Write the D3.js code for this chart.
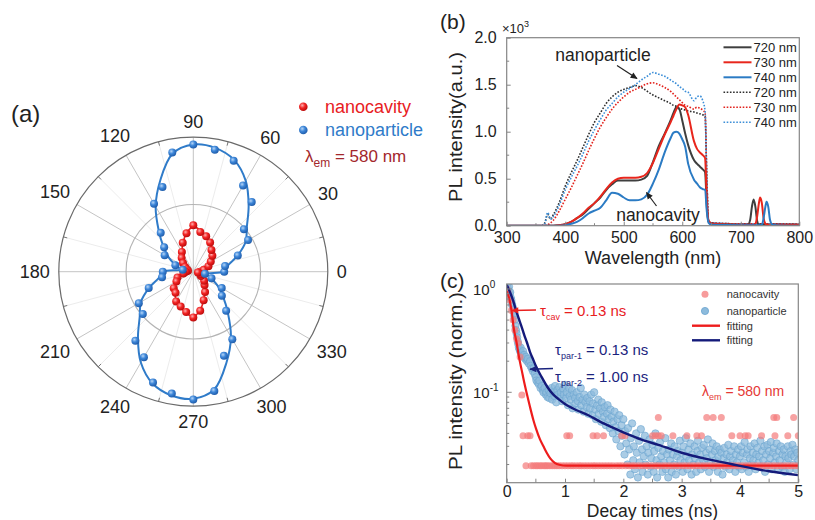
<!DOCTYPE html>
<html><head><meta charset="utf-8">
<script src="https://cdn.jsdelivr.net/npm/d3@7"></script>
<style>body{margin:0;background:#fff}svg{display:block}text{font-family:Arial,'Liberation Sans',Helvetica,sans-serif}</style>
</head><body><svg id="fig" width="815" height="520"></svg>
<script>
// ---------- Panel (a): polar emission pattern ----------
const polarAngles = [0,10,20,30,40,50,60,70,80,90,100,110,120,130,140,150,160,170,180,190,200,210,220,230,240,250,260,270,280,290,300,310,320,330,340,350];
const particlePolar = [0.23,0.24,0.352,0.47,0.491,0.676,0.74,0.877,0.921,0.946,0.90,0.67,0.584,0.377,0.283,0.246,0.142,0.08,0.227,0.236,0.353,0.468,0.49,0.67,0.734,0.876,0.92,0.95,0.90,0.666,0.58,0.38,0.277,0.244,0.144,0.088];
const particlePolarFit = [0.225,0.26,0.35,0.45,0.52,0.64,0.78,0.885,0.935,0.945,0.89,0.72,0.56,0.40,0.29,0.21,0.14,0.10,0.225,0.26,0.35,0.45,0.52,0.64,0.78,0.885,0.935,0.945,0.89,0.72,0.56,0.40,0.29,0.21,0.14,0.10];
const cavityPolar = [0.05,0.08,0.12,0.15,0.185,0.21,0.25,0.28,0.30,0.345,0.29,0.23,0.17,0.135,0.10,0.07,0.05,0.04,0.055,0.075,0.125,0.145,0.19,0.205,0.255,0.275,0.305,0.34,0.295,0.225,0.175,0.13,0.105,0.065,0.055,0.035];
const cavityPolarFit = [0.05,0.08,0.115,0.15,0.185,0.215,0.25,0.28,0.31,0.335,0.29,0.225,0.17,0.13,0.10,0.07,0.05,0.04,0.05,0.08,0.115,0.15,0.185,0.215,0.25,0.28,0.31,0.335,0.29,0.225,0.17,0.13,0.10,0.07,0.05,0.04];
const polarLabelAngles = [0,30,60,90,120,150,180,210,240,270,300,330];
const polarMinorAngles = [15,45,75,105,135,165,195,225,255,285,315,345];

// ---------- Panel (b): PL spectra ----------
const wavelength = [300,360,365,370,375,380,390,400,410,420,430,440,450,460,470,480,490,500,510,520,530,540,550,560,570,580,585,590,595,600,605,610,620,625,630,635,639,642,645,650,700,712,716,719,722,725,728,731,733,736,739,742,744,747,750,754,760,800];
const cavity720 = [0,0,0,0,0,0,0.005,0.015,0.04,0.08,0.12,0.18,0.24,0.30,0.38,0.44,0.48,0.48,0.48,0.48,0.49,0.53,0.68,0.85,0.98,1.12,1.20,1.26,1.24,1.12,0.98,0.86,0.70,0.66,0.63,0.60,0.57,0.20,0.04,0.02,0.01,0.01,0.06,0.20,0.28,0.20,0.05,0.01,0.01,0.01,0.01,0.01,0.01,0.01,0.01,0.01,0.01,0.01];
const cavity730 = [0,0,0,0,0,0,0.005,0.015,0.04,0.08,0.13,0.19,0.24,0.31,0.39,0.46,0.50,0.51,0.51,0.51,0.52,0.56,0.67,0.82,0.97,1.10,1.17,1.24,1.29,1.28,1.26,1.18,0.90,0.82,0.78,0.75,0.72,0.25,0.05,0.02,0.01,0.01,0.01,0.01,0.01,0.02,0.10,0.24,0.30,0.24,0.08,0.02,0.01,0.01,0.01,0.01,0.01,0.01];
const cavity740 = [0,0,0,0,0,0,0,0.005,0.02,0.04,0.08,0.13,0.16,0.19,0.27,0.35,0.34,0.30,0.27,0.27,0.28,0.33,0.45,0.60,0.78,0.93,0.99,1.00,0.98,0.92,0.84,0.66,0.49,0.45,0.41,0.39,0.38,0.15,0.03,0.01,0.005,0.005,0.005,0.005,0.005,0.005,0.005,0.005,0.005,0.01,0.08,0.20,0.255,0.20,0.06,0.01,0.005,0];
const particle720 = [0,0,0.03,0.12,0.07,0.12,0.25,0.42,0.56,0.69,0.83,0.97,1.10,1.20,1.30,1.37,1.42,1.45,1.47,1.49,1.47,1.43,1.39,1.36,1.33,1.30,1.28,1.27,1.25,1.24,1.23,1.22,1.21,1.20,1.19,1.18,1.16,0.50,0.05,0.03,0.02,0.02,0.02,0.02,0.02,0.02,0.02,0.02,0.02,0.02,0.02,0.02,0.02,0.02,0.02,0.02,0.02,0.015];
const particle730 = [0,0,0,0.01,0.03,0.06,0.16,0.28,0.40,0.53,0.66,0.80,0.93,1.05,1.15,1.24,1.31,1.37,1.42,1.45,1.48,1.51,1.52,1.50,1.47,1.43,1.40,1.37,1.34,1.31,1.28,1.27,1.24,1.26,1.25,1.23,1.20,0.50,0.05,0.03,0.02,0.02,0.02,0.02,0.02,0.02,0.02,0.02,0.02,0.02,0.02,0.02,0.02,0.02,0.02,0.02,0.02,0.015];
const particle740 = [0,0,0.02,0.14,0.07,0.10,0.22,0.38,0.51,0.63,0.76,0.90,1.02,1.13,1.23,1.30,1.37,1.42,1.46,1.50,1.55,1.59,1.63,1.61,1.59,1.55,1.53,1.51,1.48,1.46,1.43,1.42,1.33,1.37,1.38,1.33,1.22,0.50,0.06,0.03,0.02,0.02,0.02,0.02,0.02,0.02,0.02,0.02,0.02,0.02,0.02,0.02,0.02,0.02,0.02,0.02,0.02,0.015];
const spectraLegend = ['720 nm','730 nm','740 nm','720 nm','730 nm','740 nm'];
const specYTicks = [0,0.5,1.0,1.5,2.0];
const specXTicks = [300,400,500,600,700,800];

// ---------- Panel (c): decay curves ----------
const particleDecay = [[0,1.08],[0.01,1.12],[0.02,1.02],[0.03,0.97],[0.04,1.05],[0.05,0.90],[0.06,0.93],[0.07,0.82],[0.08,0.78],[0.09,0.72],[0.10,0.68],[0.11,0.63],[0.12,0.60],[0.13,0.55],[0.14,0.50],[0.15,0.44],[0.16,0.40],[0.17,0.37],[0.18,0.34],[0.19,0.31],[0.20,0.29],[0.21,0.27],[0.22,0.26],[0.23,0.25],[0.24,0.27],[0.25,0.24],[0.26,0.23],[0.28,0.25],[0.29,0.22],[0.30,0.23],[0.32,0.21],[0.33,0.22],[0.35,0.20],[0.36,0.21],[0.38,0.19],[0.40,0.20],[0.41,0.18],[0.43,0.17],[0.45,0.16],[0.46,0.17],[0.48,0.15],[0.50,0.14],[0.51,0.13],[0.53,0.125],[0.55,0.12],[0.56,0.13],[0.58,0.11],[0.60,0.115],[0.62,0.105],[0.63,0.10],[0.65,0.11],[0.67,0.095],[0.68,0.10],[0.70,0.09],[0.72,0.105],[0.73,0.088],[0.75,0.098],[0.77,0.11],[0.78,0.085],[0.80,0.10],[0.82,0.092],[0.83,0.115],[0.85,0.08],[0.87,0.105],[0.88,0.095],[0.90,0.112],[0.92,0.09],[0.93,0.10],[0.95,0.082],[0.97,0.108],[0.98,0.095],[1.00,0.118],[1.02,0.088],[1.03,0.10],[1.05,0.075],[1.07,0.11],[1.08,0.092],[1.10,0.085],[1.12,0.105],[1.13,0.07],[1.15,0.095],[1.17,0.088],[1.18,0.078],[1.20,0.10],[1.22,0.082],[1.23,0.068],[1.25,0.09],[1.27,0.11],[1.28,0.075],[1.30,0.085],[1.32,0.065],[1.33,0.095],[1.35,0.08],[1.37,0.072],[1.38,0.088],[1.40,0.062],[1.42,0.082],[1.43,0.07],[1.45,0.095],[1.47,0.06],[1.48,0.078],[1.50,0.10],[1.52,0.068],[1.53,0.055],[1.55,0.075],[1.57,0.085],[1.58,0.062],[1.60,0.07],[1.62,0.052],[1.63,0.08],[1.65,0.065],[1.67,0.058],[1.68,0.072],[1.70,0.048],[1.72,0.062],[1.73,0.075],[1.75,0.055],[1.77,0.045],[1.78,0.068],[1.80,0.058],[1.82,0.04],[1.83,0.052],[1.85,0.065],[1.87,0.046],[1.88,0.035],[1.90,0.055],[1.92,0.042],[1.93,0.06],[1.95,0.03],[1.97,0.048],[1.98,0.038],[2.00,0.055],[2.02,0.025],[2.03,0.042],[2.05,0.032],[2.07,0.02],[2.08,0.045],[2.10,0.028],[2.12,0.016],[2.13,0.036],[2.15,0.05],[2.17,0.022],[2.18,0.03],[2.20,0.018],[2.22,0.04],[2.23,0.026],[2.25,0.015],[2.27,0.034],[2.28,0.021],[2.30,0.044],[2.32,0.028],[2.33,0.017],[2.35,0.024],[2.37,0.038],[2.38,0.02],[2.40,0.03],[2.42,0.016],[2.43,0.026],[2.45,0.035],[2.47,0.019],[2.48,0.023],[2.50,0.031],[2.52,0.017],[2.53,0.027],[2.55,0.04],[2.57,0.022],[2.58,0.015],[2.60,0.029],[2.62,0.02],[2.63,0.033],[2.65,0.024],[2.67,0.017],[2.68,0.027],[2.70,0.021],[2.72,0.036],[2.73,0.018],[2.75,0.025],[2.77,0.015],[2.78,0.028],[2.80,0.022],[2.82,0.032],[2.83,0.017],[2.85,0.025],[2.87,0.02],[2.88,0.03],[2.90,0.016],[2.92,0.024],[2.93,0.027],[2.95,0.019],[2.97,0.034],[2.98,0.022],[3.00,0.026],[3.02,0.017],[3.03,0.03],[3.05,0.021],[3.07,0.036],[3.08,0.024],[3.10,0.018],[3.12,0.028],[3.13,0.022],[3.15,0.032],[3.17,0.016],[3.18,0.025],[3.20,0.02],[3.22,0.03],[3.23,0.023],[3.25,0.017],[3.27,0.027],[3.28,0.034],[3.30,0.021],[3.32,0.025],[3.33,0.018],[3.35,0.029],[3.37,0.022],[3.38,0.031],[3.40,0.019],[3.42,0.026],[3.43,0.023],[3.45,0.035],[3.47,0.017],[3.48,0.028],[3.50,0.021],[3.52,0.025],[3.53,0.032],[3.55,0.019],[3.57,0.027],[3.58,0.022],[3.60,0.03],[3.62,0.017],[3.63,0.024],[3.65,0.028],[3.67,0.02],[3.68,0.026],[3.70,0.016],[3.72,0.023],[3.73,0.029],[3.75,0.019],[3.77,0.025],[3.78,0.021],[3.80,0.031],[3.82,0.018],[3.83,0.024],[3.85,0.027],[3.87,0.02],[3.88,0.022],[3.90,0.03],[3.92,0.017],[3.93,0.025],[3.95,0.021],[3.97,0.028],[3.98,0.019],[4.00,0.024],[4.02,0.03],[4.03,0.018],[4.05,0.026],[4.07,0.021],[4.08,0.033],[4.10,0.019],[4.12,0.025],[4.13,0.028],[4.15,0.017],[4.17,0.023],[4.18,0.03],[4.20,0.02],[4.22,0.026],[4.23,0.022],[4.25,0.032],[4.27,0.018],[4.28,0.025],[4.30,0.029],[4.32,0.021],[4.33,0.024],[4.35,0.034],[4.37,0.019],[4.38,0.027],[4.40,0.022],[4.42,0.03],[4.43,0.017],[4.45,0.025],[4.47,0.031],[4.48,0.02],[4.50,0.027],[4.52,0.023],[4.53,0.033],[4.55,0.018],[4.57,0.026],[4.58,0.029],[4.60,0.021],[4.62,0.024],[4.63,0.032],[4.65,0.018],[4.67,0.027],[4.68,0.022],[4.70,0.03],[4.72,0.019],[4.73,0.025],[4.75,0.028],[4.77,0.017],[4.78,0.024],[4.80,0.021],[4.82,0.03],[4.83,0.023],[4.85,0.018],[4.87,0.027],[4.88,0.025],[4.90,0.031],[4.92,0.02],[4.93,0.024],[4.95,0.028],[4.97,0.018],[4.98,0.026],[5.00,0.022]];
const cavityDecayEarly = [[0,1.0],[0.02,0.93],[0.05,0.78],[0.08,0.62],[0.11,0.5],[0.14,0.4],[0.17,0.33],[0.2,0.3],[0.23,0.22],[0.26,0.094]];
const cavityLevels = [0.0195,0.038,0.057];
const cavityLevel1T = [0.33,0.42,0.46,0.5,0.53,0.57,0.6,0.64,0.67,0.7,0.74,0.78,0.82,0.86,0.9,0.95,1.0,1.05,1.1,1.14,1.19,1.24,1.28,1.33,1.38,1.43,1.48,1.52,1.57,1.62,1.67,1.72,1.77,1.82,1.88,1.93,1.98,2.04,2.1,2.15,2.2,2.26,2.32,2.38,2.43,2.49,2.55,2.6,2.66,2.72,2.78,2.84,2.9,2.96,3.02,3.08,3.14,3.2,3.26,3.32,3.38,3.44,3.5,3.56,3.62,3.68,3.74,3.8,3.86,3.92,3.98,4.04,4.1,4.16,4.22,4.28,4.34,4.4,4.46,4.52,4.58,4.64,4.7,4.76,4.82,4.88,4.94,5.0];
const cavityLevel2T = [0.28,0.36,0.4,1.03,1.08,1.48,1.55,1.66,1.97,2.03,2.5,2.55,2.6,2.65,2.85,3.09,3.26,3.34,3.86,4.0,4.09,4.14,4.37,4.6,4.82,5.0];
const cavityLevel3T = [2.6,3.43,3.54,3.68,4.58,4.63,4.92];
const cavityFit = [[0,0.95],[0.05,0.78],[0.086,0.6],[0.12,0.42],[0.171,0.30],[0.21,0.22],[0.257,0.164],[0.3,0.125],[0.343,0.098],[0.4,0.072],[0.457,0.054],[0.5,0.045],[0.571,0.035],[0.63,0.03],[0.686,0.026],[0.75,0.0228],[0.83,0.0206],[0.9,0.0199],[1.03,0.0195],[5.0,0.0195]];
const particleFit = [[0,1.10],[0.05,0.95],[0.1,0.80],[0.15,0.65],[0.2,0.53],[0.25,0.44],[0.3,0.36],[0.35,0.30],[0.4,0.245],[0.45,0.21],[0.5,0.18],[0.6,0.14],[0.7,0.112],[0.8,0.095],[0.9,0.085],[1.0,0.077],[1.2,0.067],[1.4,0.06],[1.6,0.052],[1.8,0.046],[2.0,0.041],[2.3,0.035],[2.6,0.031],[3.0,0.026],[3.4,0.0228],[3.8,0.0205],[4.0,0.0194],[4.5,0.0172],[5.0,0.0158]];
const decayXTicks = [0,1,2,3,4,5];
const decayXMinor = [0.5,1.5,2.5,3.5,4.5];
const decayYMajor = [1,0.1];
const decayYMinor = [0.02,0.03,0.04,0.05,0.06,0.07,0.08,0.09,0.2,0.3,0.4,0.5,0.6,0.7,0.8,0.9];

// ================= drawing =================
const svg = d3.select('#fig');
svg.append('rect').attr('width',815).attr('height',520).attr('fill','#fff');
const defs = svg.append('defs');
function sphere(id, light, mid, dark){
  const g = defs.append('radialGradient').attr('id',id).attr('cx','38%').attr('cy','35%').attr('r','70%');
  g.append('stop').attr('offset','0%').attr('stop-color',light);
  g.append('stop').attr('offset','45%').attr('stop-color',mid);
  g.append('stop').attr('offset','100%').attr('stop-color',dark);
}
sphere('gBlue','#b5d5f7','#3d86d8','#1c58a6');
sphere('gRed','#ffb0b0','#f22424','#b50808');
function arrowMarker(id,color){
  defs.append('marker').attr('id',id).attr('viewBox','0 0 10 10').attr('refX',9).attr('refY',5)
    .attr('markerWidth',8).attr('markerHeight',7).attr('markerUnits','userSpaceOnUse').attr('orient','auto')
    .append('path').attr('d','M0,0.5 L10,5 L0,9.5 Z').attr('fill',color);
}
arrowMarker('arK','#222'); arrowMarker('arR','#e8201f'); arrowMarker('arN','#1a237e');
const txt = '#222';

// ---- Panel (a)
const A = {cx:193.3, cy:271.7, R:134.5};
const rS = d3.scaleLinear().domain([0,1]).range([0,A.R]);
const ang = deg => (90-deg)*Math.PI/180;
const gA = svg.append('g').attr('transform',`translate(${A.cx},${A.cy})`);
polarMinorAngles.forEach(a=>{const p=d3.pointRadial(ang(a),rS(1));
  gA.append('line').attr('x1',0).attr('y1',0).attr('x2',p[0]).attr('y2',p[1]).attr('stroke','#ececec').attr('stroke-width',1);});
polarLabelAngles.forEach(a=>{const p=d3.pointRadial(ang(a),rS(1));
  gA.append('line').attr('x1',0).attr('y1',0).attr('x2',p[0]).attr('y2',p[1]).attr('stroke','#c4c4c4').attr('stroke-width',1);});
polarMinorAngles.forEach(a=>{const p1=d3.pointRadial(ang(a),rS(1)),p2=d3.pointRadial(ang(a),rS(1)-4);
  gA.append('line').attr('x1',p1[0]).attr('y1',p1[1]).attr('x2',p2[0]).attr('y2',p2[1]).attr('stroke','#777');});
gA.append('circle').attr('r',rS(0.5)).attr('fill','none').attr('stroke','#b4b4b4').attr('stroke-width',1.1);
gA.append('circle').attr('r',rS(1)).attr('fill','none').attr('stroke','#6a6a6a').attr('stroke-width',1.2);
polarLabelAngles.forEach(a=>{
  const t = gA.append('text').text(a).attr('font-size',18).attr('fill',txt).attr('text-anchor','middle').attr('dominant-baseline','central');
  const w = t.node().getComputedTextLength(), h = 13;
  const c = Math.cos(a*Math.PI/180), s = Math.sin(a*Math.PI/180);
  const d = A.R + 9 + Math.abs(c)*w/2 + Math.abs(s)*h/2;
  t.attr('x', d*c).attr('y', -d*s);
});
const radialLine = d3.lineRadial().angle(d=>ang(d[0])).radius(d=>rS(d[1])).curve(d3.curveCatmullRomClosed.alpha(0.5));
gA.append('path').attr('d',radialLine(polarAngles.map((a,i)=>[a,particlePolarFit[i]]))).attr('fill','none').attr('stroke','#2f7bc9').attr('stroke-width',2);
gA.append('path').attr('d',radialLine(polarAngles.map((a,i)=>[a,cavityPolarFit[i]]))).attr('fill','none').attr('stroke','#e8201f').attr('stroke-width',1.6);
polarAngles.forEach((a,i)=>{const p=d3.pointRadial(ang(a),rS(cavityPolar[i]));
  gA.append('circle').attr('cx',p[0]).attr('cy',p[1]).attr('r',4).attr('fill','url(#gRed)');});
polarAngles.forEach((a,i)=>{const p=d3.pointRadial(ang(a),rS(particlePolar[i]));
  gA.append('circle').attr('cx',p[0]).attr('cy',p[1]).attr('r',4).attr('fill','url(#gBlue)');});
// legend (a)
svg.append('circle').attr('cx',303.3).attr('cy',106.7).attr('r',4.3).attr('fill','url(#gRed)');
svg.append('circle').attr('cx',303.3).attr('cy',130).attr('r',4.3).attr('fill','url(#gBlue)');
svg.append('text').attr('x',325).attr('y',113).attr('font-size',18).attr('fill','#e8201f').text('nanocavity');
svg.append('text').attr('x',325).attr('y',136).attr('font-size',18).attr('fill','#2f7bc9').text('nanoparticle');
const lamA = svg.append('text').attr('x',305).attr('y',162).attr('font-size',17).attr('fill','#a3272c');
lamA.append('tspan').text('λ');
lamA.append('tspan').attr('font-size',12).attr('dy',5).text('em');
lamA.append('tspan').attr('dy',-5).text(' = 580 nm');
svg.append('text').attr('x',11).attr('y',122).attr('font-size',24).attr('fill',txt).text('(a)');

// ---- Panel (b)
const B = {x0:506.7,x1:799.3,y0:37.7,y1:225.7};
const xB = d3.scaleLinear().domain([300,800]).range([B.x0,B.x1]);
const yB = d3.scaleLinear().domain([0,2]).range([B.y1,B.y0]);
defs.append('clipPath').attr('id','clipB').append('rect').attr('x',B.x0).attr('y',B.y0).attr('width',B.x1-B.x0).attr('height',B.y1-B.y0);
const gB = svg.append('g');
const specLine = d3.line().x((d,i)=>xB(wavelength[i])).y(d=>yB(d)).curve(d3.curveMonotoneX);
const specSeries = [
  {v:particle720,c:'#2e2e2e',dash:'1.6,1.6',w:1.6},
  {v:particle730,c:'#e2231d',dash:'1.6,1.6',w:1.6},
  {v:particle740,c:'#3d8fd8',dash:'1.6,1.6',w:1.6},
  {v:cavity720,c:'#3f3f3f',dash:null,w:2},
  {v:cavity730,c:'#e8261c',dash:null,w:2},
  {v:cavity740,c:'#2b7bc4',dash:null,w:2}];
const gBc = gB.append('g').attr('clip-path','url(#clipB)');
specSeries.forEach(s=>{gBc.append('path').attr('d',specLine(s.v)).attr('fill','none').attr('stroke',s.c)
  .attr('stroke-width',s.w).attr('stroke-dasharray',s.dash).attr('stroke-linejoin','round');});
gB.append('rect').attr('x',B.x0).attr('y',B.y0).attr('width',B.x1-B.x0).attr('height',B.y1-B.y0).attr('fill','none').attr('stroke','#858585').attr('stroke-width',1.2);
const axL = d3.axisLeft(yB).tickValues(specYTicks).tickFormat(d3.format('.1f')).tickSize(-4).tickPadding(10);
const gAxL = gB.append('g').attr('transform',`translate(${B.x0},0)`).call(axL);
const axBt = d3.axisBottom(xB).tickValues(specXTicks).tickSize(-4).tickPadding(6);
const gAxB = gB.append('g').attr('transform',`translate(0,${B.y1})`).call(axBt);
[gAxL,gAxB].forEach(g=>{g.select('.domain').remove(); g.selectAll('line').attr('stroke','#858585');
  g.selectAll('text').attr('font-size',16).attr('fill',txt).attr('font-family',"Arial,'Liberation Sans',sans-serif");});
[0.25,0.75,1.25,1.75].forEach(v=>gB.append('line').attr('x1',B.x0).attr('x2',B.x0+2.5).attr('y1',yB(v)).attr('y2',yB(v)).attr('stroke','#858585'));
[350,450,550,650,750].forEach(v=>gB.append('line').attr('x1',xB(v)).attr('x2',xB(v)).attr('y1',B.y1).attr('y2',B.y1-2.5).attr('stroke','#858585'));
const xm = svg.append('text').attr('x',502).attr('y',33).attr('font-size',13).attr('fill',txt);
xm.append('tspan').text('×10'); xm.append('tspan').attr('font-size',9).attr('dy',-6).text('3');
svg.append('text').attr('x',B.x0+(B.x1-B.x0)/2).attr('y',264).attr('text-anchor','middle').attr('font-size',18).attr('fill',txt).text('Wavelength (nm)');
svg.append('text').attr('transform','translate(462,127) rotate(-90)').attr('text-anchor','middle').attr('font-size',18)
  .attr('textLength',150).attr('lengthAdjust','spacingAndGlyphs').attr('fill',txt).text('PL intensity(a.u.)');
svg.append('text').attr('x',440).attr('y',29).attr('font-size',21).attr('fill',txt).text('(b)');
// legend (b)
const legColors = ['#3f3f3f','#e8261c','#2b7bc4','#2e2e2e','#e2231d','#3d8fd8'];
spectraLegend.forEach((lab,i)=>{
  const y = 47.3 + i*15;
  svg.append('line').attr('x1',723.5).attr('x2',751.5).attr('y1',y).attr('y2',y).attr('stroke',legColors[i])
    .attr('stroke-width',i<3?2:1.6).attr('stroke-dasharray',i<3?null:'1.6,1.6');
  svg.append('text').attr('x',753.5).attr('y',y+4.5).attr('font-size',13).attr('fill',txt).text(lab);
});
// annotations (b)
svg.append('text').attr('x',603).attr('y',61).attr('text-anchor','middle').attr('font-size',17.5).attr('fill',txt).text('nanoparticle');
svg.append('line').attr('x1',617).attr('y1',65.5).attr('x2',637).attr('y2',78.5).attr('stroke','#222').attr('stroke-width',1.2).attr('marker-end','url(#arK)');
svg.append('text').attr('x',658).attr('y',221).attr('text-anchor','middle').attr('font-size',17.5).attr('fill',txt).text('nanocavity');
svg.append('line').attr('x1',656.5).attr('y1',206).attr('x2',646.5).attr('y2',192.5).attr('stroke','#222').attr('stroke-width',1.2).attr('marker-end','url(#arK)');

// ---- Panel (c)
const C = {x0:506.7,x1:798.3,y0:284,y1:482.7};
const xC = d3.scaleLinear().domain([0,5]).range([C.x0,C.x1]);
const yC = d3.scaleLog().domain([0.01334,1.117]).range([C.y1,C.y0]);
defs.append('clipPath').attr('id','clipC').append('rect').attr('x',C.x0).attr('y',C.y0).attr('width',C.x1-C.x0).attr('height',C.y1-C.y0);
const gC = svg.append('g');
const gCc = gC.append('g').attr('clip-path','url(#clipC)');
gCc.selectAll('circle.np').data(particleDecay).join('circle').attr('class','np')
  .attr('cx',d=>xC(d[0])).attr('cy',d=>yC(d[1])).attr('r',3.7)
  .attr('fill','#8dbbdc').attr('fill-opacity',0.75).attr('stroke','#6aa3cf').attr('stroke-opacity',0.7).attr('stroke-width',0.8);
const cavityPts = cavityDecayEarly
  .concat(cavityLevel1T.map(t=>[t,cavityLevels[0]]))
  .concat(cavityLevel2T.map(t=>[t,cavityLevels[1]]))
  .concat(cavityLevel3T.map(t=>[t,cavityLevels[2]]));
gCc.selectAll('circle.cv').data(cavityPts).join('circle').attr('class','cv')
  .attr('cx',d=>xC(d[0])).attr('cy',d=>yC(d[1])).attr('r',3.5)
  .attr('fill','#f47a7a').attr('fill-opacity',0.7);
const decayLine = d3.line().x(d=>xC(d[0])).y(d=>yC(d[1])).curve(d3.curveMonotoneX);
gCc.append('path').attr('d',decayLine(cavityFit)).attr('fill','none').attr('stroke','#ee1c1c').attr('stroke-width',2.2);
gCc.append('path').attr('d',decayLine(particleFit)).attr('fill','none').attr('stroke','#141a7a').attr('stroke-width',2.4);
gC.append('rect').attr('x',C.x0).attr('y',C.y0).attr('width',C.x1-C.x0).attr('height',C.y1-C.y0).attr('fill','none').attr('stroke','#858585').attr('stroke-width',1.2);
const axCb = d3.axisBottom(xC).tickValues(decayXTicks).tickFormat(d3.format('d')).tickSize(-4).tickPadding(3);
const gAxCb = gC.append('g').attr('transform',`translate(0,${C.y1})`).call(axCb);
gAxCb.select('.domain').remove(); gAxCb.selectAll('line').attr('stroke','#858585');
gAxCb.selectAll('text').attr('font-size',16).attr('fill',txt).attr('font-family',"Arial,'Liberation Sans',sans-serif");
decayXMinor.forEach(v=>gC.append('line').attr('x1',xC(v)).attr('x2',xC(v)).attr('y1',C.y1).attr('y2',C.y1-4).attr('stroke','#858585'));
decayYMajor.forEach(v=>gC.append('line').attr('x1',C.x0).attr('x2',C.x0+5).attr('y1',yC(v)).attr('y2',yC(v)).attr('stroke','#858585'));
decayYMinor.forEach(v=>gC.append('line').attr('x1',C.x0).attr('x2',C.x0+2.5).attr('y1',yC(v)).attr('y2',yC(v)).attr('stroke','#858585'));
const expLab = ['0','-1'];
decayYMajor.forEach((v,i)=>{
  const t = gC.append('text').attr('x',473).attr('y',yC(v)+6).attr('font-size',15).attr('fill',txt);
  t.append('tspan').text('10'); t.append('tspan').attr('font-size',10).attr('dy',-7).text(expLab[i]);
});
svg.append('text').attr('x',C.x0+(C.x1-C.x0)/2).attr('y',517).attr('text-anchor','middle').attr('font-size',17.5).attr('fill',txt).text('Decay times (ns)');
svg.append('text').attr('transform','translate(462,381) rotate(-90)').attr('text-anchor','middle').attr('font-size',18)
  .attr('textLength',178).attr('lengthAdjust','spacingAndGlyphs').attr('fill',txt).text('PL intensity (norm.)');
svg.append('text').attr('x',440).attr('y',288).attr('font-size',21).attr('fill',txt).text('(c)');
// legend (c)
svg.append('circle').attr('cx',705).attr('cy',294.3).attr('r',3.5).attr('fill','#f47a7a').attr('fill-opacity',0.75);
svg.append('circle').attr('cx',705).attr('cy',311).attr('r',3.6).attr('fill','#8dbbdc').attr('stroke','#6aa3cf').attr('stroke-width',0.8);
svg.append('line').attr('x1',692).attr('x2',720).attr('y1',325.7).attr('y2',325.7).attr('stroke','#ee1c1c').attr('stroke-width',2.4);
svg.append('line').attr('x1',692).attr('x2',720).attr('y1',340.3).attr('y2',340.3).attr('stroke','#141a7a').attr('stroke-width',2.4);
[['nanocavity',294.3],['nanoparticle',311],['fitting',325.7],['fitting',340.3]].forEach(d=>
  svg.append('text').attr('x',726.7).attr('y',d[1]+4).attr('font-size',11).attr('fill','#333').text(d[0]));
// annotations (c)
function tauLabel(x,y,sub,rest,color,size){
  const t = svg.append('text').attr('x',x).attr('y',y).attr('font-size',size).attr('fill',color);
  t.append('tspan').text('τ'); t.append('tspan').attr('font-size',9).attr('dy',4).text(sub);
  t.append('tspan').attr('dy',-4).text(rest);
}
tauLabel(540,316,'cav',' = 0.13 ns','#e8201f',15);
tauLabel(555,355,'par-1',' = 0.13 ns','#1a237e',15);
tauLabel(555,382,'par-2',' = 1.00 ns','#1a237e',15);
svg.append('line').attr('x1',536).attr('y1',310).attr('x2',512).attr('y2',310.5).attr('stroke','#e8201f').attr('stroke-width',1.5).attr('marker-end','url(#arR)');
svg.append('line').attr('x1',553).attr('y1',368.5).attr('x2',530).attr('y2',369.3).attr('stroke','#1a237e').attr('stroke-width',1.5).attr('marker-end','url(#arN)');
const lamC = svg.append('text').attr('x',702).attr('y',396).attr('font-size',14).attr('fill','#e53935');
lamC.append('tspan').text('λ'); lamC.append('tspan').attr('font-size',9).attr('dy',4).text('em');
lamC.append('tspan').attr('dy',-4).text(' = 580 nm');
</script></body></html>
